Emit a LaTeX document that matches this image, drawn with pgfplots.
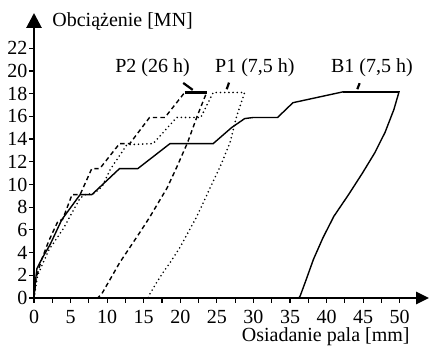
\documentclass[border=0pt]{standalone}
\usepackage{fontspec}
\setmainfont{Liberation Serif}
\usepackage{pgfplots}
\pgfplotsset{compat=1.18}
\usetikzlibrary{arrows.meta}

\begin{document}
\begin{tikzpicture}[font=\fontsize{10}{12}\selectfont]
\begin{axis}[
  scale only axis, width=197.5pt, height=142.5pt,
  xmin=0, xmax=54, ymin=0, ymax=25.1,
  axis lines=left,
  axis line style={line width=1.4pt},
  x axis line style={-{Triangle[length=6.5pt,width=6pt]}},
  y axis line style={-{Triangle[length=7.5pt,width=7.5pt]}},
  xtick={0,5,...,50}, ytick={0,2,...,22},
  minor x tick num=1,
  tick align=outside,
  major tick length=2.5pt, minor tick length=2.5pt,
  tick style={line width=0.6pt, black},
  /pgf/number format/assume math mode=true,
  yticklabel style={inner xsep=0.6pt},
  clip=false,
]
% B1 (solid)
\addplot[black, line width=0.7pt] coordinates {
(0,0) (0.2,1.5) (0.4,2.6) (1.2,3.6) (2.2,4.7) (3.8,6.9) (6.3,9.1) (7.9,9.1)
(11.7,11.4) (14.2,11.4) (18.6,13.6) (24.5,13.6) (27,15) (28.8,15.8) (30,15.9)
(33.3,15.9) (35.4,17.2) (42.2,18.15) (49.9,18.15)
(49.2,16.6) (48.0,14.6) (46.6,12.8) (44.9,11.0) (43.0,9.1) (41.0,7.2)
(39.5,5.3) (38.2,3.4) (37.2,1.6) (36.4,0.2) (36.2,0)
};
\addplot[black, line width=1.1pt] coordinates {(42.2,18.15) (49.9,18.15)};
% P2 (dashed)
\addplot[black, line width=0.7pt, dash pattern=on 2.2pt off 1.6pt] coordinates {
(0,0) (0.3,1.8) (1,3.3) (2,5) (3.3,6.8) (3.9,6.9) (5.2,9.1) (6.3,9.1)
(7.9,11.4) (9.0,11.4) (11.7,13.6) (13.1,13.6) (15.8,15.9) (17.9,15.9)
(20.6,18.1) (23.6,18.1)
(22.3,16) (21,13.7) (19.5,11.5) (18.2,9.7) (15.8,7.1) (14.5,5.8) (11.7,3.1)
(9.3,0.4) (8.7,0)
};
\addplot[black, line width=1.1pt] coordinates {(20.6,18.1) (23.6,18.1)};
% P1 (dotted)
\addplot[black, line width=0.9pt, line cap=round, dash pattern=on 0pt off 2.1pt] coordinates {
(0,0) (0.5,2) (2,4.2) (4,6.1) (6.3,8.8) (7,9.1) (8.2,9.2) (9.3,9.8)
(10.4,11.3) (12.7,13.5) (16.3,13.6) (19.5,15.9) (22.8,15.9) (24.5,18.1)
(28.8,18.1)
(27.7,16) (26.8,13.7) (25.6,11.8) (24.3,10) (22.2,7.1) (19.9,4.4) (18.7,3.2)
(17.6,2.2) (16.6,1.2) (15.8,0.3) (15.6,0)
};
% labels
\node[anchor=base] at (axis cs:16.2,19.9) {P2 (26 h)};
\node[anchor=base] at (axis cs:30.2,19.9) {P1 (7,5 h)};
\node[anchor=base] at (axis cs:46.2,19.9) {B1 (7,5 h)};
\draw[line width=1.1pt] (axis cs:20.4,18.94) -- (axis cs:21.7,18.33);
\draw[line width=1.1pt] (axis cs:26.66,18.97) -- (axis cs:26.35,18.39);
\draw[line width=1.1pt] (axis cs:44.52,18.92) -- (axis cs:44.2,18.39);
\node[anchor=base west, inner sep=0pt] at (axis cs:2.46,23.9) {Obciążenie [MN]};
\node[anchor=base east, inner sep=0pt] at (axis cs:51.4,-3.8) {Osiadanie pala [mm]};
\end{axis}
\pgfresetboundingbox
\path (current axis.south west) ++(-17pt,-25pt) rectangle ++(214.5pt,174pt);
\end{tikzpicture}
\end{document}
